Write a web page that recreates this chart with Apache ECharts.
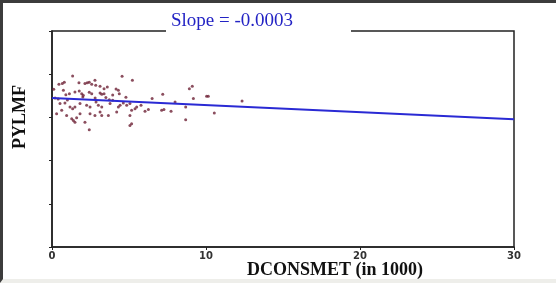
<!DOCTYPE html>
<html>
<head>
<meta charset="utf-8">
<script src="https://cdn.jsdelivr.net/npm/echarts@6/dist/echarts.min.js"></script>
<style>
  html, body { margin: 0; padding: 0; background: #d8d8d4; }
  #frame {
    position: absolute; left: 0; top: 0; width: 556px; height: 283px;
    box-sizing: border-box;
    border-left: 3px solid #3c3c3c; border-top: 3px solid #3c3c3c;
    border-bottom: 4px solid #eeeeea;
    background: #fff;
  }
  #chart { width: 553px; height: 276px; }
</style>
</head>
<body>
<div id="frame"><div id="chart"></div></div>
<script>
// scatter points: [DCONSMET (in 1000), PYLMF]
const points = [
  [1.34, 79.2], [0.45, 75.3], [0.67, 75.7], [0.80, 76.3], [1.75, 76.0],
  [2.14, 75.7], [2.29, 76.0], [2.42, 76.3], [2.58, 75.3], [2.79, 77.2],
  [2.84, 74.9], [3.12, 74.4], [4.55, 79.1], [5.22, 77.2], [3.38, 73.3],
  [3.59, 74.1], [4.16, 73.2], [4.31, 72.6], [4.37, 71.0], [0.74, 72.6],
  [1.13, 71.0], [1.49, 71.8], [1.77, 72.2], [1.93, 71.0], [2.03, 70.2],
  [2.42, 71.6], [2.58, 71.0], [3.12, 71.3], [3.23, 70.7], [3.38, 71.0],
  [3.94, 70.4], [7.19, 70.7], [8.92, 73.3], [9.11, 74.4], [10.04, 69.8],
  [10.15, 69.8], [9.18, 68.7], [12.34, 67.6], [0.52, 66.4], [0.84, 66.7],
  [1.17, 64.8], [1.34, 64.0], [1.49, 64.8], [1.82, 66.4], [2.25, 65.6],
  [2.47, 64.8], [2.86, 67.1], [3.01, 65.6], [3.23, 64.8], [3.72, 68.2],
  [3.77, 66.4], [3.94, 67.9], [4.31, 64.8], [4.42, 65.6], [4.63, 66.7],
  [4.85, 65.6], [5.06, 66.4], [5.17, 63.3], [5.39, 64.0], [5.50, 64.8],
  [5.78, 65.6], [6.04, 62.9], [6.26, 63.6], [7.12, 63.3], [7.27, 63.6],
  [7.73, 62.9], [7.99, 67.1], [8.68, 64.8], [10.54, 62.0], [0.30, 61.7],
  [0.63, 63.3], [0.95, 60.9], [1.28, 59.4], [1.39, 58.6], [1.49, 57.8],
  [1.60, 59.8], [1.82, 61.7], [2.14, 57.8], [2.47, 61.7], [2.79, 60.9],
  [3.12, 62.5], [3.23, 60.9], [3.66, 60.9], [4.20, 62.5], [5.06, 60.9],
  [5.17, 57.1], [5.06, 56.3], [8.68, 58.9], [2.42, 54.3], [0.11, 73.0],
  [0.20, 69.0], [0.40, 68.5], [1.00, 68.0], [2.00, 69.5], [2.80, 69.0],
  [4.80, 69.3], [6.50, 68.8], [0.90, 70.5], [3.50, 69.2]
]
// fitted line, slope = -0.0003 per unit
const fitLine = [[0, 69.0], [30, 59.1]]
const xTicks = [0, 10, 20, 30]
const slopeText = 'Slope = -0.0003'

const chart = echarts.init(document.getElementById('chart'))

chart.setOption({
  animation: false,
  backgroundColor: '#fff',
  title: {
    text: slopeText,
    left: 163,
    top: 4,
    z: 10,
    textStyle: {
      fontFamily: 'Liberation Serif',
      fontSize: 19,
      fontWeight: 'normal',
      color: '#2323c4',
    },
  },
  grid: {
    left: 49, top: 28, right: 42, bottom: 32,
    show: true,
    borderColor: '#222',
    borderWidth: 1.5,
    backgroundColor: '#fff',
  },
  xAxis: {
    type: 'value',
    min: xTicks[0],
    max: xTicks[xTicks.length - 1],
    interval: 10,
    axisLine: { show: true, onZero: false, lineStyle: { color: '#222', width: 1.5 } },
    axisTick: { show: true, length: 3, lineStyle: { color: '#222' } },
    splitLine: { show: false },
    axisLabel: {
      margin: 4,
      fontFamily: 'DejaVu Sans',
      fontSize: 10,
      fontWeight: 'bold',
      color: '#333',
    },
  },
  yAxis: {
    type: 'value',
    min: 0,
    max: 100,
    interval: 20,
    axisLine: { show: true, lineStyle: { color: '#222', width: 1.5 } },
    axisTick: { show: true, length: 3, lineStyle: { color: '#222' } },
    splitLine: { show: false },
    axisLabel: { show: false },
  },
  graphic: [
    // gap in the top frame line around the title
    { type: 'rect', shape: { x: 163, y: 26, width: 185, height: 4 }, style: { fill: '#fff' }, z: 5 },
    {
      type: 'text', x: 17, y: 114, rotation: Math.PI / 2,
      style: {
        text: 'PYLMF', fontFamily: 'Liberation Serif', fontSize: 18, fontWeight: 'bold',
        fill: '#111', align: 'center', verticalAlign: 'middle',
      },
    },
    {
      type: 'text', x: 332, y: 267,
      style: {
        text: 'DCONSMET (in 1000)', fontFamily: 'Liberation Serif', fontSize: 18, fontWeight: 'bold',
        fill: '#111', align: 'center', verticalAlign: 'middle',
      },
    },
  ],
  series: [
    {
      type: 'scatter',
      data: points,
      symbolSize: 3,
      itemStyle: { color: '#6e2236' },
      z: 2,
    },
    {
      type: 'line',
      data: fitLine,
      showSymbol: false,
      lineStyle: { color: '#2a2ad4', width: 2 },
      z: 3,
    },
  ],
})
</script>
</body>
</html>
